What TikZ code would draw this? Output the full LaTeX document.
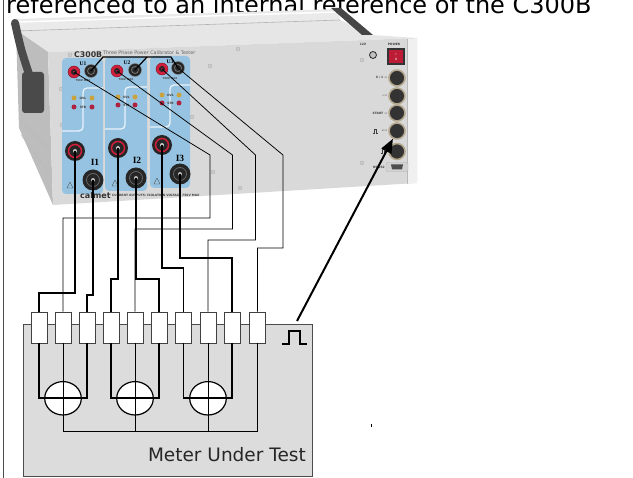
\documentclass[tikz,border=0pt]{standalone}
\usepackage{fontspec}
\setmainfont{DejaVu Sans}
\newfontfamily\labelserif{Liberation Serif}
\usetikzlibrary{shapes.geometric,arrows.meta}
\definecolor{frontgray}{HTML}{D9D9D9}
\definecolor{topgray}{HTML}{E6E6E6}
\definecolor{sidegray}{HTML}{BDBDBD}
\definecolor{handlegray}{HTML}{4A4A4A}
\definecolor{panelblue}{HTML}{96C3E1}
\definecolor{termred}{HTML}{D21F3C}
\definecolor{ledamber}{HTML}{C9A43E}
\definecolor{ledred}{HTML}{AE2340}
\definecolor{dinrim}{HTML}{B5A88F}
\definecolor{meterfill}{HTML}{DCDCDC}
\begin{document}
\begin{tikzpicture}[x=1pt,y=-1pt,
  smalltext/.style={font=\fontsize{3}{3.5}\selectfont\bfseries,text=black!75},
  screw/.style={circle,fill=gray!40,draw=gray!65,line width=0.3pt,minimum size=4pt},
  ured/.style={circle,fill=termred,draw=termred!60!black,line width=0.4pt,minimum size=12pt,
    path picture={\fill[black!85] (path picture bounding box.center) circle (3pt);
      \fill[termred] (path picture bounding box.center) circle (1pt);}},
  ublack/.style={circle,fill=black!85,draw=black!50,line width=0.4pt,minimum size=13pt,
    path picture={\draw[black!55,line width=0.8pt] (path picture bounding box.center) circle (3.5pt);}},
  ired/.style={circle,fill=black!85,minimum size=20pt,
    path picture={\draw[termred,line width=1.5pt] (path picture bounding box.center) circle (6.5pt);
      \fill[gray!45] (path picture bounding box.center) circle (2pt);}},
  iblack/.style={circle,fill=black!85,minimum size=21pt,
    path picture={\draw[black!60,line width=0.8pt] (path picture bounding box.center) circle (6.5pt);
      \fill[gray!55] (path picture bounding box.center) circle (2pt);}},
  led/.style={circle,minimum size=5pt},
  din/.style={circle,fill=black!80,draw=dinrim,line width=1.6pt,minimum size=16pt},
  term/.style={rectangle,draw=black!75,fill=white,line width=0.9pt,minimum width=16pt,minimum height=31pt},
  coil/.style={ellipse,draw=black,fill=white,line width=1.2pt,minimum width=36.6pt,minimum height=33.4pt},
  current/.style={line width=1.7pt},
  volt/.style={line width=0.75pt},
  bridge/.style={line width=1.2pt},
  pulsearrow/.style={line width=2pt,-{Triangle[length=14pt,width=11pt]}}]
\tikzstyle{every node}+=[inner sep=0pt]
\clip (0,0) rectangle (633,478);
\node[anchor=base west,font=\fontsize{24}{28}\selectfont] (title) at (6,13.5) {referenced to an internal reference of the C300B};
\draw[gray!60!black,line width=1pt] (3.5,0) -- (3.5,478);
\fill[topgray] (16,31) -- (340,20) -- (373,35) -- (417,38) -- (48,52) -- (22,36) -- cycle;
\fill[topgray!85!white] (14,19) -- (338,9) -- (340,20) -- (16,31) -- cycle;
\draw[gray!60,line width=0.6pt] (16,31) -- (340,20);
\draw[white,line width=1.5pt] (18,22) -- (336,12);
\fill[gray!55!black] (331,8) -- (341,8) -- (373,35) -- (362,35) -- cycle;
\fill[sidegray] (16,30) -- (48,52) -- (53,205) -- (19,128) -- cycle;
\draw[gray!55,line width=0.5pt] (20,120) -- (50,150);
\draw[gray!55,line width=0.5pt] (21,135) -- (51,175);
\draw[handlegray,line width=8pt,line cap=round] (15,23) .. controls (21,50) .. (31,80);
\fill[handlegray,rounded corners=3pt] (22,72) rectangle (44,113);
\fill[frontgray] (48,52) -- (417,38) -- (417,183) -- (53,205) -- cycle;
\fill[gray!12] (407.3,39) -- (417,38) -- (417,183) -- (407.3,183.6) -- cycle;
\draw[gray!55,line width=0.5pt] (407,39) -- (407,184);
\draw[gray!30,line width=1pt] (50,53) -- (55,204);
\node[screw] (s1) at (70,55) {};
\node[screw] (s2) at (238,49) {};
\node[screw] (s3) at (210,66) {};
\node[screw] (s4) at (61,89) {};
\node[screw] (s5) at (62,125) {};
\node[screw] (s6) at (192,117) {};
\node[screw] (s7) at (213,172) {};
\node[screw] (s8) at (240,188) {};
\node[screw] (s9) at (362,60) {};
\node[screw] (s10) at (362,163) {};
\fill[panelblue,rounded corners=4pt] (62,58) rectangle (103,194);
\fill[panelblue,rounded corners=4pt] (105,57) rectangle (147,191);
\fill[panelblue,rounded corners=4pt] (150,56) rectangle (190,188);
\draw[white!80!panelblue,line width=1.3pt,rounded corners=4pt] (62,131) -- (83,131) -- (83,88) -- (103,88);
\draw[white!80!panelblue,line width=1.3pt,rounded corners=4pt] (105,129) -- (125,129) -- (125,87) -- (147,87);
\draw[white!80!panelblue,line width=1.3pt,rounded corners=4pt] (150,127) -- (170,127) -- (170,85) -- (190,85);
\node[anchor=base west,font=\fontsize{7.8}{8}\selectfont\bfseries,text=black!80] (model) at (74,57.5) {C300B};
\node[anchor=base west,font=\fontsize{4.8}{5}\selectfont,text=black!60] (subtitle) at (103,55) {Three Phase Power Calibrator \& Tester};
\node[font=\labelserif\fontsize{5.5}{6}\selectfont\bfseries] (lu1) at (83,63.5) {U1};
\node[font=\labelserif\fontsize{5.5}{6}\selectfont\bfseries] (lu2) at (127,62.5) {U2};
\node[font=\labelserif\fontsize{5.5}{6}\selectfont\bfseries] (lu3) at (170,61.5) {U3};
\node[ured] (u1r) at (74,72) {};
\node[ublack] (u1b) at (91,71) {};
\node[ured] (u2r) at (117,71) {};
\node[ublack] (u2b) at (135,70) {};
\node[ured] (u3r) at (162,69) {};
\node[ublack] (u3b) at (178,68) {};
\node[smalltext,font=\fontsize{2.6}{3}\selectfont\bfseries] (max1) at (83,81) {750V MAX};
\node[smalltext,font=\fontsize{2.6}{3}\selectfont\bfseries] (max2) at (126,80) {750V MAX};
\node[smalltext,font=\fontsize{2.6}{3}\selectfont\bfseries] (max3) at (170,78.5) {750V MAX};
\node[led,fill=ledamber] (ovl1a) at (74,98) {};
\node[led,fill=ledamber] (ovl1b) at (92,98) {};
\node[led,fill=ledred] (stb1a) at (74,107) {};
\node[led,fill=ledred] (stb1b) at (92,107) {};
\node[led,fill=ledamber] (ovl2a) at (118,97) {};
\node[led,fill=ledamber] (ovl2b) at (135,97) {};
\node[led,fill=ledred] (stb2a) at (118,105) {};
\node[led,fill=ledred] (stb2b) at (135,105) {};
\node[led,fill=ledamber] (ovl3a) at (162,95) {};
\node[led,fill=ledamber] (ovl3b) at (179,95) {};
\node[led,fill=ledred] (stb3a) at (162,103) {};
\node[led,fill=ledred] (stb3b) at (179,103) {};
\node[smalltext] (tovl1) at (83,98) {OVL};
\node[smalltext] (tstb1) at (83,107) {STB};
\node[smalltext] (tovl2) at (126.5,97) {OVL};
\node[smalltext] (tstb2) at (126.5,105) {STB};
\node[smalltext] (tovl3) at (170.5,95) {OVL};
\node[smalltext] (tstb3) at (170.5,103) {STB};
\node[ired] (i1r) at (75,151) {};
\node[iblack] (i1b) at (93,180) {};
\node[ired] (i2r) at (118,148) {};
\node[iblack] (i2b) at (136,178) {};
\node[ired] (i3r) at (162,145) {};
\node[iblack] (i3b) at (180,174) {};
\node[font=\labelserif\fontsize{9.5}{10}\selectfont\bfseries] (li1) at (95,162) {I1};
\node[font=\labelserif\fontsize{9.5}{10}\selectfont\bfseries] (li2) at (137,160) {I2};
\node[font=\labelserif\fontsize{9.5}{10}\selectfont\bfseries] (li3) at (180,158) {I3};
\draw[black!70,line width=0.4pt,line join=round] (67,188) -- (73,188) -- (70,182) -- cycle;
\draw[black!70,line width=0.4pt,line join=round] (112,186) -- (118,186) -- (115,180) -- cycle;
\draw[black!70,line width=0.4pt,line join=round] (154,184) -- (160,184) -- (157,178) -- cycle;
\node[anchor=base west,font=\fontsize{8}{8}\selectfont\bfseries,text=black!80] (brand) at (80,199) {calmet};
\node[anchor=base west,smalltext] (isol) at (112,197) {CURRENT OUTPUTS: ISOLATION VOLTAGE 750V MAX};
\node[smalltext] (t12v) at (363,44.5) {12V};
\node[smalltext] (tpower) at (394,44) {POWER};
\node[circle,fill=gray!50,draw=gray!30!black,line width=0.8pt,minimum size=7pt] (jack) at (373,55) {};
\node[rectangle,fill=black!80,minimum width=18pt,minimum height=17pt] (power) at (396,56.5) {};
\node[rectangle,fill=termred!90!black,minimum width=14pt,minimum height=13pt,font=\fontsize{3}{3}\selectfont,text=white,align=center] (switch) at (396,56.5) {I\\[2pt]O};
\node[din] (din1) at (397,78) {};
\node[din] (din2) at (397,96) {};
\node[din] (din3) at (397,113) {};
\node[din] (din4) at (397,131) {};
\node[din] (din5) at (397,151.5) {};
\node[anchor=east,smalltext] (ldin1) at (387,78) {0 / 1 →};
\node[anchor=east,smalltext] (ldin2) at (387,96) {∼→};
\node[anchor=east,smalltext] (ldin3) at (387,113) {START →};
\node[anchor=east,smalltext] (ldin4) at (387,131) {←→};
\draw[black!75,line width=0.4pt] (373,133) -- (374,133) -- (374,129.5) -- (376.5,129.5) -- (376.5,133) -- (377.5,133);
\draw[black!75,line width=0.4pt] (381,153) -- (382,153) -- (382,149.5) -- (384.5,149.5) -- (384.5,153) -- (385.5,153);
\node[rectangle,rounded corners=1pt,fill=gray!35,draw=gray!60,minimum width=22pt,minimum height=9pt] (rs232) at (397,167) {};
\fill[black!70] (391,164.5) -- (403,164.5) -- (402,169.5) -- (392,169.5) -- cycle;
\node[anchor=east,smalltext] (lrs) at (385,167) {RS 232};
\draw[bridge] (u1b.center) -- (103,57) -- (171,57) -- (u3b.center);
\draw[bridge] (u2b.center) -- (147,57);
\fill[meterfill,draw=black!70,line width=0.9pt] (23,324) rectangle (312,476);
\node[anchor=base east,font=\fontsize{18.5}{22}\selectfont,text=black!85] (mut) at (306,462) {Meter Under Test};
\draw[line width=2pt] (282,344) -- (288.5,344) -- (288.5,331) -- (300,331) -- (300,344) -- (307,344);
\node[term] (t1) at (39,327.5) {};
\node[term] (t2) at (63,327.5) {};
\node[term] (t3) at (87,327.5) {};
\node[term] (t4) at (111,327.5) {};
\node[term] (t5) at (135,327.5) {};
\node[term] (t6) at (159,327.5) {};
\node[term] (t7) at (183.5,327.5) {};
\node[term] (t8) at (208,327.5) {};
\node[term] (t9) at (232,327.5) {};
\node[term] (t10) at (257.5,327.5) {};
\node[coil] (e1) at (63,398.3) {};
\node[coil] (e2) at (135,398.3) {};
\node[coil] (e3) at (208,398.3) {};
\draw[current] (t1.south) -- (t1 |- e1) -- (t3 |- e1) -- (t3.south);
\draw[current] (t4.south) -- (t4 |- e2) -- (t6 |- e2) -- (t6.south);
\draw[current] (t7.south) -- (t7 |- e3) -- (t9 |- e3) -- (t9.south);
\draw[volt] (t2.south) -- (t2 |- 0,431) -- (t10 |- 0,431) -- (t10.south);
\draw[volt] (t5.south) -- (t5 |- 0,431);
\draw[volt] (t8.south) -- (t8 |- 0,431);
\draw[volt] (u1r.center) -- (210,155) -- (210,218) -| (t2.north);
\draw[volt] (u2r.center) -- (232.5,155) -- (232.5,229) -| (t5.north);
\draw[volt] (u3r.center) -- (255.5,155) -- (255.5,240) -| (t8.north);
\draw[volt] (u3b.center) -- (283,155) -- (283,248) -| (t10.north);
\draw[current] (i1r.center) -- (i1r |- 0,293) -| (t1.north);
\draw[current] (i1b.center) -- (i1b |- 0,295) -| (t3.north);
\draw[current] (i2r.center) -- (i2r |- 0,279) -| (t4.north);
\draw[current] (i2b.center) -- (i2b |- 0,279) -| (t6.north);
\draw[current] (i3r.center) -- (i3r |- 0,268) -| (t7.north);
\draw[current] (i3b.center) -- (i3b |- 0,258) -| (t9.north);
\coordinate (pout) at (297,321);
\draw[pulsearrow] (pout) -- (din4);
\fill[black] (370.6,424) rectangle (371.6,427);
\end{tikzpicture}
\end{document}
